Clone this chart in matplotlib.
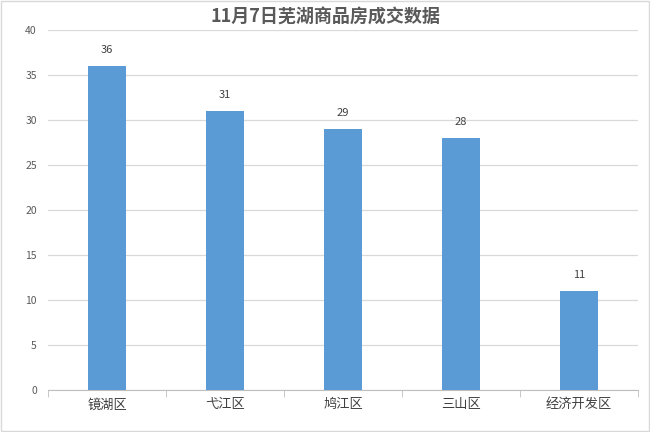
import matplotlib
matplotlib.use("Agg")
import matplotlib.pyplot as plt
from matplotlib.patches import Rectangle

plt.rcParams['font.family'] = ['Noto Sans CJK SC', 'DejaVu Sans']

title = "11月7日芜湖商品房成交数据"
categories = ["镜湖区", "弋江区", "鸠江区", "三山区", "经济开发区"]
values = [36, 31, 29, 28, 11]
yticks = [0, 5, 10, 15, 20, 25, 30, 35, 40]

W, H = 650, 432
fig = plt.figure(figsize=(6.5, 4.32), dpi=100)
ax = fig.add_axes([48 / W, 1 - 390 / H, (638 - 48) / W, 360 / H])

x = list(range(len(categories)))
bars = ax.bar(x, values, width=0.32, color="#5B9BD5", zorder=3)
for xi, v in zip(x, values):
    ax.text(xi, v + 1.2, str(v), ha="center", va="bottom", fontsize=8, color="#404040")

ax.set_xlim(-0.5, len(categories) - 0.5)
ax.set_ylim(0, 40)
ax.set_yticks(yticks)
ax.set_yticklabels([str(t) for t in yticks], fontsize=7.5, color="#595959")
ax.set_xticks(x)
ax.set_xticklabels(categories, fontsize=9.5, color="#404040")
ax.grid(axis="y", color="#d9d9d9", linewidth=0.9, zorder=0)
for s in ["top", "right", "left"]:
    ax.spines[s].set_visible(False)
ax.spines["bottom"].set_color("#bfbfbf")
ax.tick_params(axis="y", length=0, pad=8)
ax.tick_params(axis="x", length=0, pad=6)
# category boundary tick marks
ax.set_xticks([i - 0.5 for i in range(len(categories) + 1)], minor=True)
ax.tick_params(axis="x", which="minor", length=5, color="#bfbfbf", direction="out")

fig.text(0.5, 1 - 17 / H, title, ha="center", va="center", fontsize=13,
         fontweight="bold", color="#595959")

fig.patches.append(Rectangle((0.001, 0.002), 0.997, 0.995, transform=fig.transFigure,
                             fill=False, edgecolor="#d9d9d9", linewidth=1.0))

fig.savefig("out.png", dpi=100)
